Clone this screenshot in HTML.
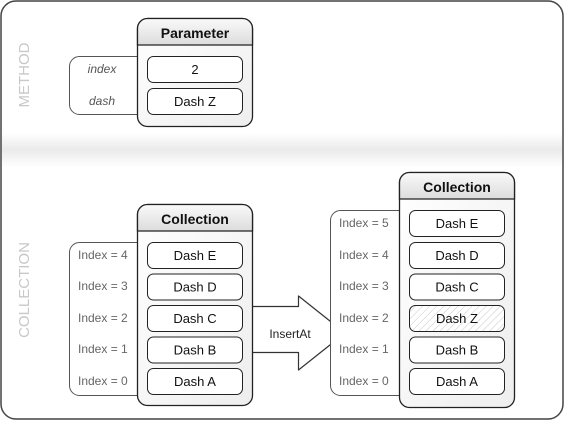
<!DOCTYPE html>
<html><head><style>body{margin:0;background:#fff}svg{display:block}</style></head>
<body>
<svg width="565" height="421" viewBox="0 0 565 421" xmlns="http://www.w3.org/2000/svg" font-family="Liberation Sans, sans-serif">
<defs>
<linearGradient id="band" x1="0" y1="0" x2="0" y2="1">
<stop offset="0" stop-color="#fff"/><stop offset="0.5" stop-color="#eaeaea"/><stop offset="1" stop-color="#fff"/></linearGradient>
<linearGradient id="hdr" x1="0" y1="0" x2="0" y2="1">
<stop offset="0" stop-color="#fafafa"/><stop offset="1" stop-color="#dcdcdc"/></linearGradient>
<linearGradient id="body" x1="0" y1="0" x2="1" y2="1">
<stop offset="0" stop-color="#fff"/><stop offset="1" stop-color="#eee"/></linearGradient>
<pattern id="hatch" width="5" height="5" patternUnits="userSpaceOnUse" patternTransform="rotate(45)">
<rect width="5" height="5" fill="#fff"/><line x1="0" y1="0" x2="0" y2="5" stroke="#c8c8c8" stroke-width="1"/></pattern>
</defs>
<rect x="1" y="1" width="562" height="418" rx="15" fill="#fff" stroke="#444" stroke-width="1.5"/>
<rect x="2" y="133" width="560" height="34" fill="url(#band)"/>
<text transform="translate(29,75) rotate(-90)" text-anchor="middle" font-size="15" fill="#c8c8c8">METHOD</text>
<text transform="translate(29,290) rotate(-90)" text-anchor="middle" font-size="15" fill="#c8c8c8">COLLECTION</text>

<!-- Parameter -->
<rect x="69.5" y="56.5" width="80" height="58" rx="10" fill="#fff" stroke="#555"/>
<text x="102" y="73" text-anchor="middle" font-size="12" font-style="italic" fill="#555">index</text>
<text x="102" y="105" text-anchor="middle" font-size="12" font-style="italic" fill="#555">dash</text>
<rect x="137.5" y="18.5" width="115" height="108" rx="10" fill="url(#body)" stroke="#222" stroke-width="1.3"/>
<path d="M137.5 45 V28.5 a10 10 0 0 1 10 -10 H242.5 a10 10 0 0 1 10 10 V45 Z" fill="url(#hdr)" stroke="#222" stroke-width="1.3"/>
<text x="195" y="38" text-anchor="middle" font-size="14" font-weight="bold" fill="#111">Parameter</text>
<rect x="147.5" y="56.5" width="95" height="26" rx="6" fill="#fff" stroke="#222"/>
<text x="195" y="74" text-anchor="middle" font-size="13" fill="#111">2</text>
<rect x="147.5" y="88.5" width="95" height="26" rx="6" fill="#fff" stroke="#222"/>
<text x="195" y="106" text-anchor="middle" font-size="13" fill="#111">Dash Z</text>

<!-- Arrow -->
<path d="M245 306.5 H298.5 V296 L345 333 L298.5 370 V352.5 H245 Z" fill="#fff" stroke="#333" stroke-width="1.2" stroke-linejoin="round"/>
<text x="290" y="338" text-anchor="middle" font-size="12" fill="#222">InsertAt</text>

<!-- Left collection -->
<rect x="69.5" y="242.5" width="80" height="153" rx="10" fill="#fff" stroke="#555"/>
<g font-size="12" fill="#666">
<text x="78" y="259">Index = 4</text><text x="78" y="290">Index = 3</text><text x="78" y="322">Index = 2</text><text x="78" y="353">Index = 1</text><text x="78" y="385">Index = 0</text>
</g>
<rect x="137.5" y="204.5" width="115" height="201" rx="10" fill="url(#body)" stroke="#222" stroke-width="1.3"/>
<path d="M137.5 231 V214.5 a10 10 0 0 1 10 -10 H242.5 a10 10 0 0 1 10 10 V231 Z" fill="url(#hdr)" stroke="#222" stroke-width="1.3"/>
<text x="195" y="224" text-anchor="middle" font-size="14" font-weight="bold" fill="#111">Collection</text>
<g font-size="13" fill="#111" text-anchor="middle">
<rect x="147.5" y="242.5" width="95" height="26" rx="6" fill="#fff" stroke="#222"/><text x="195" y="260">Dash E</text>
<rect x="147.5" y="274" width="95" height="26" rx="6" fill="#fff" stroke="#222"/><text x="195" y="291.5">Dash D</text>
<rect x="147.5" y="305.5" width="95" height="26" rx="6" fill="#fff" stroke="#222"/><text x="195" y="323">Dash C</text>
<rect x="147.5" y="337" width="95" height="26" rx="6" fill="#fff" stroke="#222"/><text x="195" y="354.5">Dash B</text>
<rect x="147.5" y="368.5" width="95" height="26" rx="6" fill="#fff" stroke="#222"/><text x="195" y="386">Dash A</text>
</g>

<!-- Right collection -->
<rect x="330.5" y="210.5" width="80" height="185" rx="10" fill="#fff" stroke="#555"/>
<g font-size="12" fill="#666">
<text x="339" y="227">Index = 5</text><text x="339" y="259">Index = 4</text><text x="339" y="290">Index = 3</text><text x="339" y="322">Index = 2</text><text x="339" y="353">Index = 1</text><text x="339" y="385">Index = 0</text>
</g>
<rect x="399.5" y="172.5" width="115" height="235" rx="10" fill="url(#body)" stroke="#222" stroke-width="1.3"/>
<path d="M399.5 199 V182.5 a10 10 0 0 1 10 -10 H504.5 a10 10 0 0 1 10 10 V199 Z" fill="url(#hdr)" stroke="#222" stroke-width="1.3"/>
<text x="457" y="192" text-anchor="middle" font-size="14" font-weight="bold" fill="#111">Collection</text>
<g font-size="13" fill="#111" text-anchor="middle">
<rect x="409.5" y="210.5" width="95" height="26" rx="6" fill="#fff" stroke="#222"/><text x="457" y="228">Dash E</text>
<rect x="409.5" y="242.5" width="95" height="26" rx="6" fill="#fff" stroke="#222"/><text x="457" y="260">Dash D</text>
<rect x="409.5" y="274" width="95" height="26" rx="6" fill="#fff" stroke="#222"/><text x="457" y="291.5">Dash C</text>
<rect x="409.5" y="305.5" width="95" height="26" rx="6" fill="url(#hatch)" stroke="#222"/><text x="457" y="323">Dash Z</text>
<rect x="409.5" y="337" width="95" height="26" rx="6" fill="#fff" stroke="#222"/><text x="457" y="354.5">Dash B</text>
<rect x="409.5" y="368.5" width="95" height="26" rx="6" fill="#fff" stroke="#222"/><text x="457" y="386">Dash A</text>
</g>
</svg>
</body></html>
